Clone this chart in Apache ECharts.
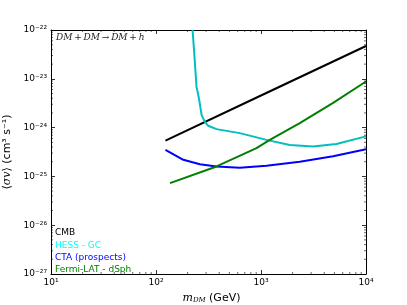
<!DOCTYPE html>
<html><head><meta charset="utf-8">
<script src="https://cdn.jsdelivr.net/npm/echarts@6/dist/echarts.min.js"></script>
<style>html,body{margin:0;padding:0;background:#fff}#c{width:407px;height:305px}</style>
</head><body><div id="c"></div>
<script>
// Data: dark-matter mass [GeV] and <sigma v> [cm^3 s^-1]
var cmbMass   = [123, 1000, 10000];
var cmbSigma  = [5.4e-25, 4.55e-24, 4.7e-23];
var hessMass  = [223, 232, 243, 256, 272, 292, 314, 377, 628, 1127, 1880, 3130, 5220, 10000];
var hessSigma = [1.0e-22, 3.08e-23, 6.9e-24, 4.06e-24, 1.8e-24, 1.31e-24, 1.09e-24, 9.3e-25, 7.7e-25, 5.6e-25, 4.4e-25, 4.1e-25, 4.6e-25, 6.6e-25];
var ctaMass   = [123, 182, 262, 377, 628, 1127, 2340, 4860, 10000];
var ctaSigma  = [3.5e-25, 2.19e-25, 1.78e-25, 1.6e-25, 1.5e-25, 1.65e-25, 2.0e-25, 2.6e-25, 3.6e-25];
var fermiMass = [136, 377, 906, 1213, 2340, 4860, 10000];
var fermiSigma= [7.3e-26, 1.6e-25, 3.8e-25, 5.6e-25, 1.23e-24, 3.2e-24, 8.8e-24];
var legendLabels = ['CMB', 'HESS - GC', 'CTA (prospects)', 'Fermi-LAT - dSph'];
var xTickExps = [1, 2, 3, 4];
var yTickExps = [-27, -26, -25, -24, -23, -22];

// The y axis is drawn in decades (log10 of <sigma v>), because ECharts rounds
// log-axis extents below 1e-20 to zero.
function pairs(a, b) { return a.map(function (v, i) { return [v, Math.log10(b[i])]; }); }
var SUP = { '0': '⁰', '1': '¹', '2': '²', '3': '³', '4': '⁴', '5': '⁵', '6': '⁶', '7': '⁷', '8': '⁸', '9': '⁹', '-': '⁻' };
function sup(e) { return String(e).split('').map(function (c) { return SUP[c]; }).join(''); }
function xFmt(v) { return '10' + sup(Math.round(Math.log10(v))); }
function yFmt(v) { return '10' + sup(Math.round(v)); }

var xMin = Math.pow(10, xTickExps[0]), xMax = Math.pow(10, xTickExps[xTickExps.length - 1]);
var yMin = yTickExps[0], yMax = yTickExps[yTickExps.length - 1];

// minor tick positions (2..9 within each decade)
var minorTicks = [];
xTickExps.slice(0, -1).forEach(function (n) { for (var k = 2; k <= 9; k++) minorTicks.push([k * Math.pow(10, n), yMin, 0]); });
yTickExps.slice(0, -1).forEach(function (n) { for (var k = 2; k <= 9; k++) minorTicks.push([xMin, n + Math.log10(k), 1]); });

var tickCommon = { show: true, inside: true, length: 4, lineStyle: { color: '#000', width: 0.8 } };
var lblStyle = { fontSize: 9, color: '#000', fontFamily: 'DejaVu Sans', margin: 4 };
var lineAx = { lineStyle: { color: '#000', width: 1 } };

var chart = echarts.init(document.getElementById('c'), null, { renderer: 'canvas' });
chart.setOption({
  animation: false,
  grid: { left: 51, right: 41, top: 30, bottom: 31, containLabel: false, outerBoundsMode: 'none' },
  xAxis: [{
    type: 'log', logBase: 10, min: xMin, max: xMax,
    axisLine: lineAx, axisTick: tickCommon, splitLine: { show: false },
    axisLabel: Object.assign({ formatter: xFmt }, lblStyle),
    name: '{i|m}{sub|DM} {n|(GeV)}', nameLocation: 'middle', nameGap: 14,
    nameTextStyle: { padding: [0, 0, 0, 6], rich: {
      i: { fontFamily: 'DejaVu Serif', fontStyle: 'italic', fontSize: 11, color: '#000' },
      sub: { fontFamily: 'DejaVu Serif', fontStyle: 'italic', fontSize: 7, color: '#000', verticalAlign: 'bottom', padding: [4, 0, 0, 0] },
      n: { fontFamily: 'DejaVu Sans', fontSize: 11, color: '#000' } } }
  }, {
    type: 'log', logBase: 10, position: 'top', min: xMin, max: xMax,
    axisLine: lineAx, axisTick: tickCommon, axisLabel: { show: false }, splitLine: { show: false }
  }],
  yAxis: [{
    type: 'value', min: yMin, max: yMax, interval: 1,
    axisLine: lineAx, axisTick: tickCommon, splitLine: { show: false },
    axisLabel: Object.assign({ formatter: yFmt }, lblStyle),
    name: '{a|⟨}{i|σv}{a|⟩ (cm³ s⁻¹)}', nameLocation: 'middle', nameGap: 26,
    nameTextStyle: { rich: {
      a: { fontFamily: 'DejaVu Sans', fontSize: 11, color: '#000' },
      i: { fontFamily: 'DejaVu Serif', fontStyle: 'italic', fontSize: 11, color: '#000' } } }
  }, {
    type: 'value', position: 'right', min: yMin, max: yMax, interval: 1,
    axisLine: lineAx, axisTick: tickCommon, axisLabel: { show: false }, splitLine: { show: false }
  }],
  series: [
    { type: 'line', name: legendLabels[0], data: pairs(cmbMass, cmbSigma), showSymbol: false, lineStyle: { color: '#000000', width: 2 }, clip: true },
    { type: 'line', name: legendLabels[1], data: pairs(hessMass, hessSigma), showSymbol: false, lineStyle: { color: '#00BFBF', width: 2 }, clip: true },
    { type: 'line', name: legendLabels[2], data: pairs(ctaMass, ctaSigma), showSymbol: false, lineStyle: { color: '#0000FF', width: 2 }, clip: true },
    { type: 'line', name: legendLabels[3], data: pairs(fermiMass, fermiSigma), showSymbol: false, lineStyle: { color: '#008000', width: 2 }, clip: true },
    { type: 'custom', silent: true, clip: false, z: 5, data: minorTicks, encode: { x: 0, y: 1 },
      renderItem: function (params, api) {
        var st = { stroke: '#000', lineWidth: 0.6 };
        if (api.value(2) === 0) {
          var b = api.coord([api.value(0), yMin]), t = api.coord([api.value(0), yMax]);
          return { type: 'group', children: [
            { type: 'line', shape: { x1: b[0], y1: b[1], x2: b[0], y2: b[1] - 2 }, style: st },
            { type: 'line', shape: { x1: t[0], y1: t[1], x2: t[0], y2: t[1] + 2 }, style: st } ] };
        }
        var l = api.coord([xMin, api.value(1)]), r = api.coord([xMax, api.value(1)]);
        return { type: 'group', children: [
          { type: 'line', shape: { x1: l[0], y1: l[1], x2: l[0] + 2, y2: l[1] }, style: st },
          { type: 'line', shape: { x1: r[0], y1: r[1], x2: r[0] - 2, y2: r[1] }, style: st } ] };
      } }
  ],
  graphic: [
    { type: 'text', left: 56, top: 33, style: { text: 'DM\u2009+\u2009DM\u2009→\u2009DM\u2009+\u2009h', font: 'italic 9px "DejaVu Serif"', fill: '#222' } },
    { type: 'text', left: 55, top: 228, style: { text: legendLabels[0], font: '9px "DejaVu Sans"', fill: '#000000' } },
    { type: 'text', left: 55, top: 241, style: { text: legendLabels[1], font: '9px "DejaVu Sans"', fill: '#00FFFF' } },
    { type: 'text', left: 55, top: 253, style: { text: legendLabels[2], font: '9px "DejaVu Sans"', fill: '#0000FF' } },
    { type: 'text', left: 55, top: 265, style: { text: legendLabels[3], font: '9px "DejaVu Sans"', fill: '#008000' } }
  ]
});
</script></body></html>
